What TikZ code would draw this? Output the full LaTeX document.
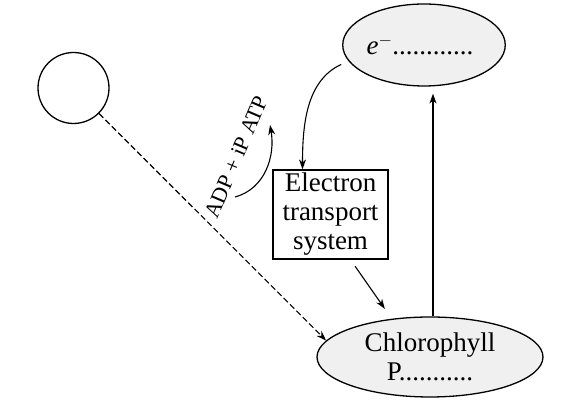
\documentclass[tikz,border=0pt]{standalone}
\usepackage{fontspec}
\setmainfont{Liberation Serif}
\usetikzlibrary{shapes.geometric,positioning,arrows.meta}

\begin{document}
\begin{tikzpicture}[x=1pt, y=1pt,
                    blob/.style={draw, ellipse, fill=gray!12, line width=1.3pt, inner sep=0pt},
                    big/.style={font=\fontsize{27}{29}\selectfont},
                    flow/.style={line width=1.1pt},
                    >={Stealth[length=10pt,width=7pt]}]
	\useasboundingbox (0,0) rectangle (582,414);
	
	\node[draw, circle, minimum size=71pt, line width=1.3pt, inner sep=0pt] (src) at (73.5,326) {};
	\node[blob, minimum width=136pt, minimum height=82pt, big] (elec) at (424,369) {\textit{e}$^{-}$............\hspace*{8pt}};
	\node[blob, minimum width=226pt, minimum height=80pt, big, align=center] (chl) at (430,57) {Chlorophyll\\P...........};
	\node[draw, line width=1.3pt, minimum width=115pt, minimum height=89pt, big, align=center, inner sep=1pt] (ets) at (330.5,199.5) {Electron\\transport\\system};
	
	\draw[flow, ->, dash pattern=on 6pt off 3pt] (src.-45) -- (chl.171);
	\coordinate (up) at ([xshift=3pt]chl.north);
	\draw[flow, ->, shorten >=7pt] (up) -- (up |- elec.south);
	\draw[flow, ->, shorten <=8pt] (elec.192) to[out=205, in=90] ([xshift=-28pt]ets.north);
	\draw[flow, ->, shorten <=8pt, shorten >=12pt] ([xshift=20pt]ets.south) -- (chl.135);
	
	% ADP to ATP
	\coordinate (adp) at (235,217);
	\coordinate (atp) at (270,289);
	\draw[flow, ->] (adp) to[out=15, in=-80] (atp);
	\node[rotate=67, font=\fontsize{22}{24}\selectfont] (cyc) at (236,257) {ADP + iP ATP};
\end{tikzpicture}
\end{document}
